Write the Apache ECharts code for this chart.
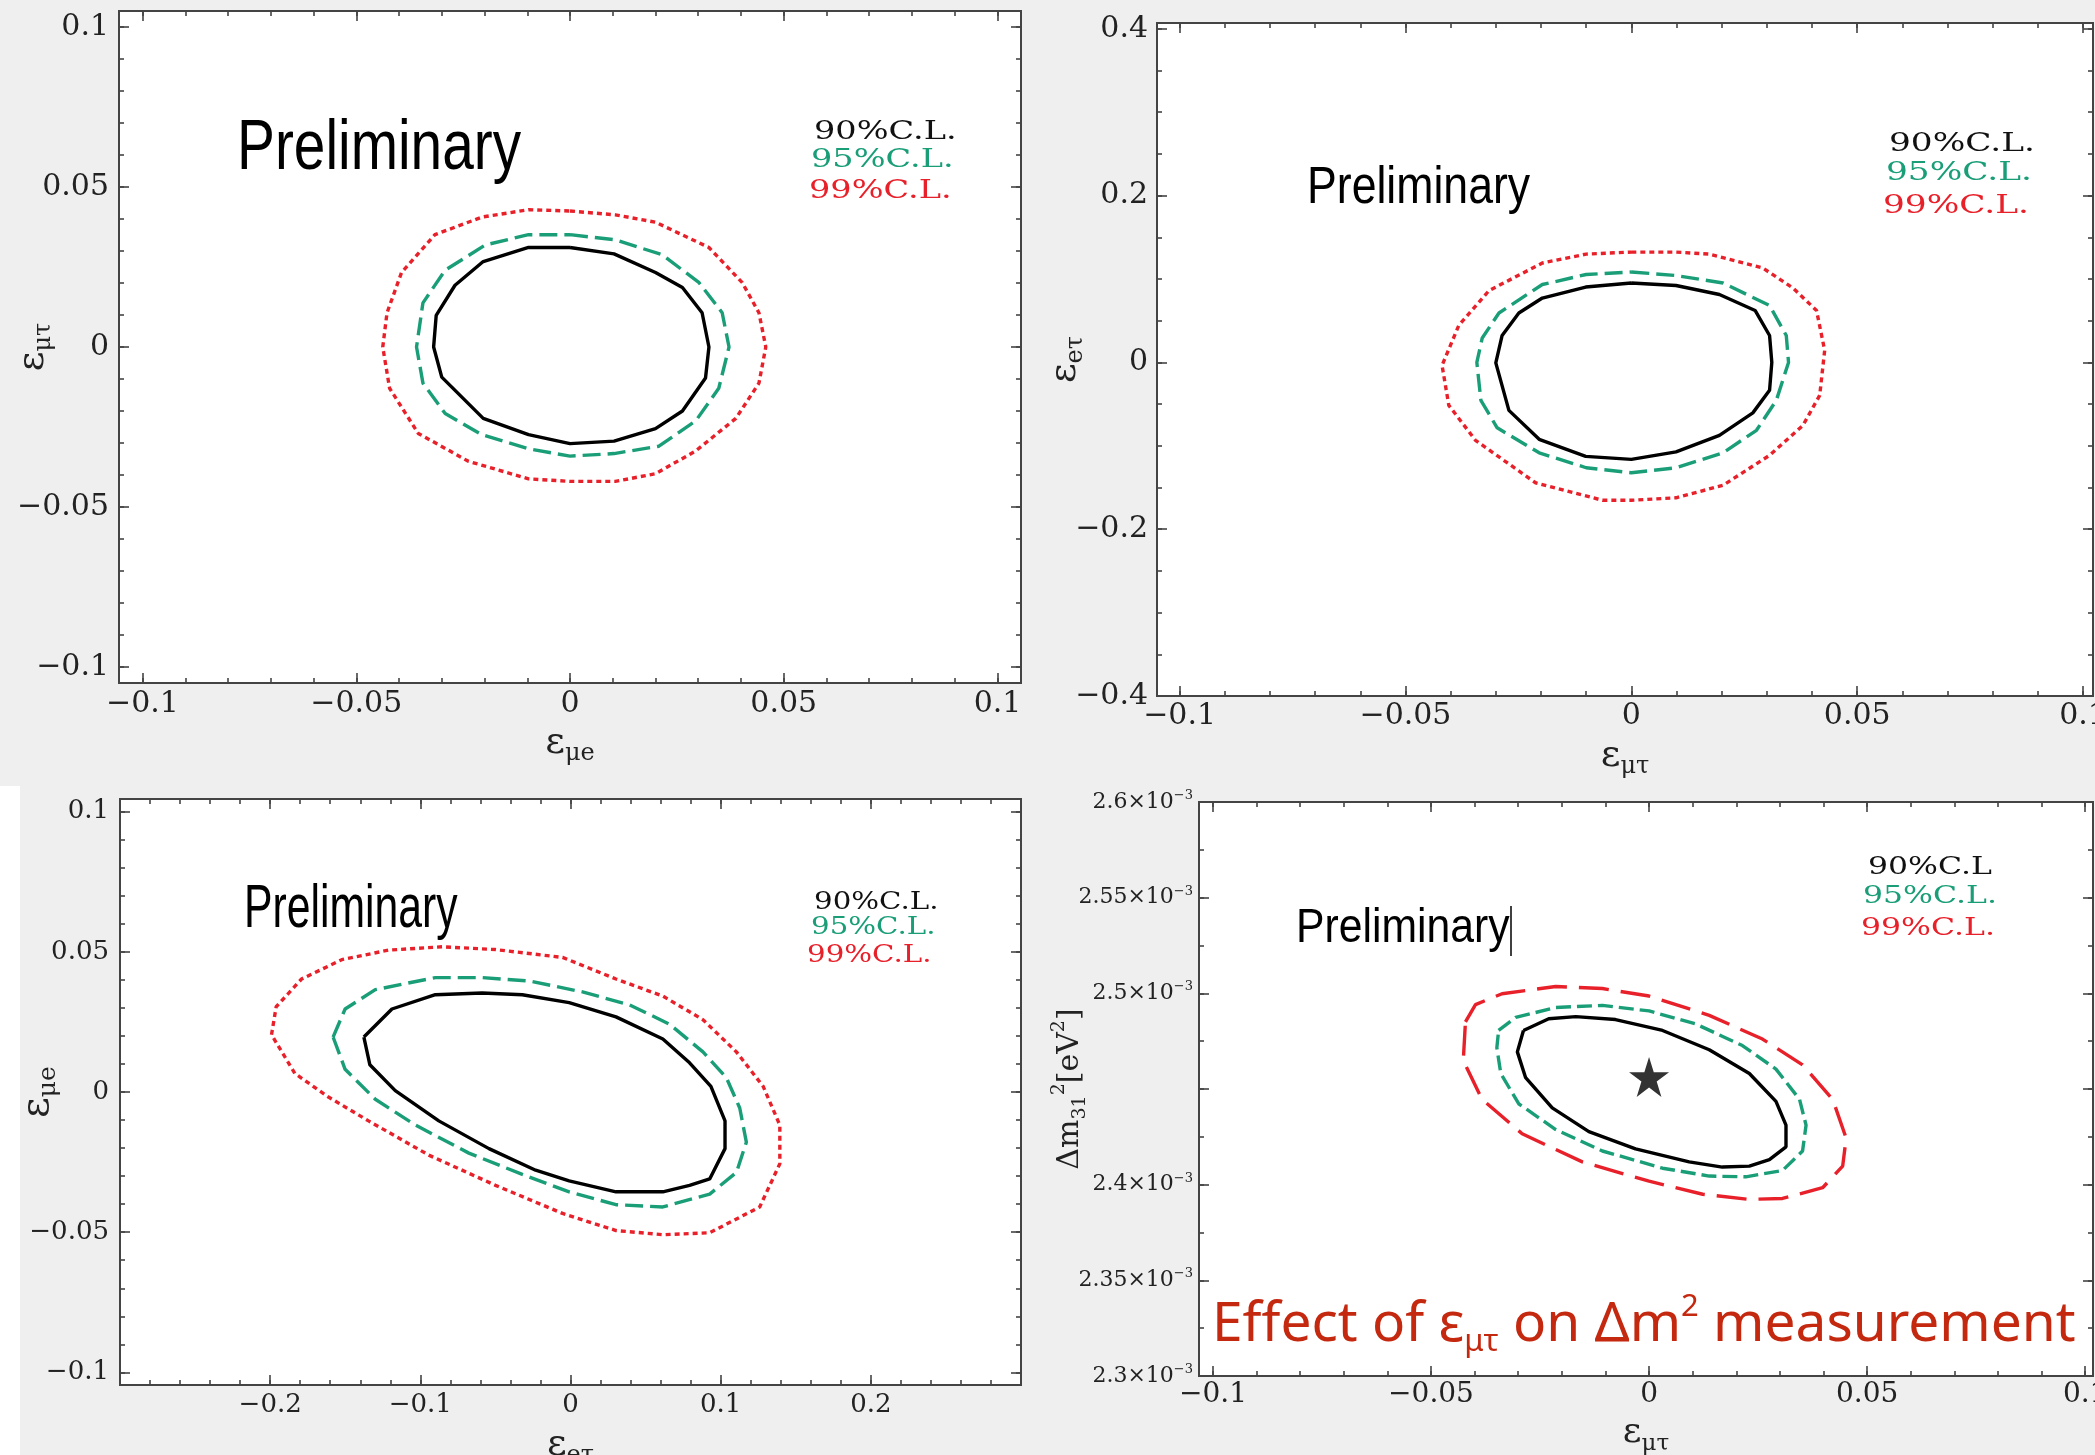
<!DOCTYPE html>
<html><head><meta charset="utf-8">
<script src="https://cdn.jsdelivr.net/npm/echarts@6/dist/echarts.min.js"></script>
<style>html,body{margin:0;padding:0;background:#efefef}#c{width:2095px;height:1455px}</style>
</head><body><div id="c"></div>
<script>
// ---------- DATA ----------
// Panel 1: x = eps_mu_e, y = eps_mu_tau
const p1_90 = [[0,0.0311],[0.0103,0.0291],[0.020,0.0233],[0.0263,0.0186],[0.0309,0.0107],[0.0325,0],[0.0317,-0.0097],[0.0263,-0.020],[0.020,-0.0255],[0.0103,-0.0294],[0,-0.0302],[-0.0097,-0.0274],[-0.0203,-0.0223],[-0.030,-0.0094],[-0.0319,0],[-0.0313,0.0099],[-0.0269,0.0193],[-0.0203,0.0267],[-0.0097,0.0311],[0,0.0311]];
const p1_95 = [[0,0.0351],[0.0106,0.0335],[0.0216,0.0288],[0.0302,0.0201],[0.0356,0.0107],[0.0372,0],[0.0348,-0.0129],[0.0294,-0.0231],[0.0208,-0.031],[0.0103,-0.0333],[0,-0.0341],[-0.0097,-0.0318],[-0.0206,-0.0274],[-0.0292,-0.0208],[-0.0344,-0.0113],[-0.0359,0],[-0.0344,0.0138],[-0.0292,0.024],[-0.0198,0.0319],[-0.0097,0.0351],[0,0.0351]];
const p1_99 = [[0,0.0425],[0.0106,0.0413],[0.020,0.039],[0.0325,0.0311],[0.0403,0.0201],[0.0442,0.0107],[0.0458,0],[0.0442,-0.0113],[0.0388,-0.0223],[0.0294,-0.0325],[0.020,-0.0396],[0.0106,-0.042],[0,-0.042],[-0.0097,-0.0412],[-0.0238,-0.0357],[-0.0355,-0.027],[-0.0422,-0.0129],[-0.0438,0],[-0.0428,0.0107],[-0.0394,0.0233],[-0.0316,0.0351],[-0.0206,0.0406],[-0.0097,0.0429],[0,0.0425]];
// Panel 2: x = eps_mu_tau, y = eps_e_tau
const p2_90 = [[0,0.0952],[0.0099,0.0922],[0.0195,0.0814],[0.0274,0.0623],[0.0306,0.0323],[0.0311,0],[0.0306,-0.0335],[0.0269,-0.0605],[0.0195,-0.0874],[0.0099,-0.1072],[0,-0.1162],[-0.0101,-0.1126],[-0.0204,-0.0922],[-0.0271,-0.0575],[-0.030,-0.0006],[-0.0286,0.0323],[-0.0249,0.0593],[-0.0197,0.0772],[-0.0101,0.0904],[0,0.0952]];
const p2_95 = [[0,0.1084],[0.0099,0.1042],[0.0203,0.0952],[0.0306,0.0683],[0.0343,0.0323],[0.0348,0],[0.0321,-0.0455],[0.0277,-0.0814],[0.0203,-0.1084],[0.0099,-0.1263],[0,-0.1323],[-0.01,-0.1263],[-0.0204,-0.1084],[-0.0297,-0.0784],[-0.0333,-0.0455],[-0.0342,0],[-0.033,0.0293],[-0.0293,0.0593],[-0.0197,0.0934],[-0.01,0.1054],[0,0.1084]];
const p2_99 = [[0,0.1323],[0.0099,0.1323],[0.0173,0.1299],[0.0291,0.1132],[0.0358,0.0892],[0.041,0.0623],[0.0428,0.0144],[0.0417,-0.0395],[0.038,-0.0754],[0.0306,-0.1114],[0.0203,-0.1473],[0.0099,-0.1623],[0,-0.1653],[-0.0064,-0.1653],[-0.0212,-0.1443],[-0.0345,-0.0934],[-0.0404,-0.0515],[-0.0419,-0.0036],[-0.0382,0.0443],[-0.0315,0.0862],[-0.0197,0.1192],[-0.01,0.1299],[0,0.1323]];
// Panel 3: x = eps_e_tau, y = eps_mu_e
const p3_90 = [[-0.1376,0.0196],[-0.1189,0.0296],[-0.09,0.0347],[-0.0588,0.0353],[-0.0321,0.0347],[-0.0009,0.0319],[0.0303,0.0268],[0.0615,0.0189],[0.0793,0.0104],[0.0935,0.002],[0.1029,-0.0103],[0.1029,-0.0202],[0.0927,-0.031],[0.0793,-0.0333],[0.0615,-0.0356],[0.0303,-0.0356],[-0.0009,-0.0317],[-0.0232,-0.0279],[-0.0543,-0.0202],[-0.0877,-0.0103],[-0.1167,0.0005],[-0.1336,0.0097],[-0.1376,0.0196]];
const p3_95 = [[-0.1581,0.0196],[-0.1501,0.0296],[-0.13,0.0365],[-0.09,0.0408],[-0.0588,0.0408],[-0.0276,0.0396],[0.008,0.0357],[0.0392,0.0311],[0.0659,0.0242],[0.0882,0.0143],[0.1038,0.0051],[0.1127,-0.0057],[0.1171,-0.0179],[0.1105,-0.0287],[0.0927,-0.0364],[0.0615,-0.041],[0.0303,-0.0402],[-0.0009,-0.0356],[-0.0321,-0.0294],[-0.0677,-0.0218],[-0.1033,-0.0118],[-0.13,-0.0026],[-0.1501,0.0081],[-0.1581,0.0196]];
const p3_99 = [[-0.1991,0.0204],[-0.196,0.0304],[-0.1791,0.0403],[-0.1523,0.0472],[-0.1212,0.0506],[-0.0855,0.0518],[-0.0499,0.0508],[-0.0053,0.048],[0.0303,0.0403],[0.0615,0.0342],[0.0882,0.0258],[0.1105,0.0143],[0.1283,0.002],[0.1394,-0.0118],[0.1394,-0.0256],[0.126,-0.041],[0.0927,-0.0502],[0.0615,-0.0509],[0.0303,-0.0494],[-0.0053,-0.0433],[-0.0499,-0.0333],[-0.0944,-0.0225],[-0.1345,-0.0103],[-0.1612,-0.0018],[-0.1835,0.0066],[-0.1991,0.0204]];
// Panel 4: x = eps_mu_tau, y = Delta m^2_31 [eV^2]
const p4_90 = [[-0.0288,2.4806e-3],[-0.023,2.4867e-3],[-0.0168,2.4878e-3],[-0.0077,2.4863e-3],[0.0031,2.4806e-3],[0.0138,2.4705e-3],[0.023,2.4581e-3],[0.0291,2.4435e-3],[0.0314,2.4311e-3],[0.0314,2.4198e-3],[0.0276,2.4131e-3],[0.023,2.4097e-3],[0.0168,2.4092e-3],[0.0092,2.4119e-3],[-0.0031,2.4187e-3],[-0.0138,2.4277e-3],[-0.0222,2.4401e-3],[-0.0283,2.4559e-3],[-0.0302,2.4694e-3],[-0.0288,2.4806e-3]];
const p4_95 = [[-0.0345,2.4806e-3],[-0.0306,2.4874e-3],[-0.0214,2.4926e-3],[-0.0107,2.4937e-3],[0,2.4908e-3],[0.0107,2.484e-3],[0.0214,2.4727e-3],[0.0291,2.4604e-3],[0.0345,2.4446e-3],[0.036,2.4311e-3],[0.0352,2.4176e-3],[0.0306,2.4074e-3],[0.0222,2.4041e-3],[0.0138,2.4045e-3],[0.0031,2.4086e-3],[-0.0107,2.4176e-3],[-0.0214,2.4288e-3],[-0.0299,2.4423e-3],[-0.034,2.4581e-3],[-0.0349,2.4716e-3],[-0.0345,2.4806e-3]];
const p4_99 = [[-0.0421,2.4851e-3],[-0.0398,2.4941e-3],[-0.0337,2.4998e-3],[-0.0214,2.5036e-3],[-0.0107,2.5025e-3],[0,2.4986e-3],[0.0138,2.4885e-3],[0.026,2.4761e-3],[0.0352,2.4626e-3],[0.0421,2.4446e-3],[0.0452,2.4243e-3],[0.0444,2.4097e-3],[0.0398,2.3984e-3],[0.0306,2.3928e-3],[0.023,2.3923e-3],[0.0123,2.395e-3],[0,2.4018e-3],[-0.0153,2.4119e-3],[-0.0291,2.4266e-3],[-0.0383,2.4446e-3],[-0.0426,2.4649e-3],[-0.0421,2.4851e-3]];
const p4_best = [[0, 2.4563e-3]];

// tick labels
const ticks_pm01 = [-0.1,-0.05,0,0.05,0.1];
const ticks_pm04 = [-0.4,-0.2,0,0.2,0.4];
const ticks_pm02 = [-0.2,-0.1,0,0.1,0.2];
const ticks_dm2_major = [2.3e-3,2.35e-3,2.4e-3,2.45e-3,2.5e-3,2.55e-3,2.6e-3];
const ticks_dm2_labels = [2.3e-3,2.35e-3,2.4e-3,2.5e-3,2.55e-3,2.6e-3];
const legendTexts = ['90%C.L.','95%C.L.','99%C.L.'];
const legendTexts4 = ['90%C.L','95%C.L.','99%C.L.'];

// ---------- STYLE ----------
const SERIF = "'DejaVu Serif', 'Liberation Serif', serif";
const AX = '#444';
const C90 = '#000000', C95 = '#1a9e78', C99 = '#e8202a';

function steps(a, b, s){ const out=[]; const n=Math.round((b-a)/s); for(let i=0;i<=n;i++) out.push(+(a+i*s).toFixed(6)); return out; }
function fmt(v){ return String(+(+v).toFixed(4)).replace('-', '\u2212'); }
function fmtDm(v){ return '{m|' + String(+(v*1000).toFixed(3)) + '\u00d710}{s|\u22123}'; }
function tickCfg(vals, len){ return {show:true, inside:true, length:len, customValues:vals, lineStyle:{color:AX, width:1.6}}; }
function epsName(fs, sfs){
  return {color:'#222', fontFamily:SERIF, rich:{
    e:{fontFamily:SERIF, fontSize:fs, lineHeight:46, color:'#222'},
    s:{fontFamily:SERIF, fontSize:sfs, lineHeight:18, verticalAlign:'bottom', color:'#222'}
  }};
}
function axes(dim, g, o){
  const pos = dim==='x' ? ['bottom','top'] : ['left','right'];
  const base = {type:'value', gridIndex:g, min:o.min, max:o.max, splitLine:{show:false}, axisLine:{show:false, onZero:false}, silent:true};
  const lab = {show:true, customValues:o.labels, formatter:o.fmt||fmt, margin:o.margin, fontFamily:SERIF, fontSize:o.fs, color:'#222'};
  if (o.rich) lab.rich = o.rich;
  return [
    Object.assign({}, base, {position:pos[0], axisTick:tickCfg(o.major,10), axisLabel:lab, name:o.name, nameLocation:'middle', nameGap:o.gap, nameMoveOverlap:false, nameTextStyle:o.nameStyle}),
    Object.assign({}, base, {position:pos[0], axisTick:tickCfg(o.minor,5), axisLabel:{show:false}}),
    Object.assign({}, base, {position:pos[1], axisTick:tickCfg(o.major,10), axisLabel:{show:false}}),
    Object.assign({}, base, {position:pos[1], axisTick:tickCfg(o.minor,5), axisLabel:{show:false}})
  ];
}
const xAxis = [].concat(
  axes('x',0,{min:-0.1055,max:0.1055,major:ticks_pm01,labels:ticks_pm01,minor:steps(-0.1,0.1,0.01),fs:30,margin:6,name:'{e|ε}{s|μe}',gap:37,nameStyle:epsName(38,24)}),
  axes('x',1,{min:-0.105,max:0.1022,major:ticks_pm01,labels:ticks_pm01,minor:steps(-0.1,0.1,0.01),fs:30,margin:5,name:'{e|ε}{s|μτ}',gap:37,nameStyle:epsName(38,24)}),
  axes('x',2,{min:-0.3,max:0.3,major:ticks_pm02,labels:ticks_pm02,minor:steps(-0.28,0.28,0.02),fs:26,margin:7,name:'{e|ε}{s|eτ}',gap:37,nameStyle:epsName(38,24)}),
  axes('x',3,{min:-0.1032,max:0.1018,major:ticks_pm01,labels:ticks_pm01,minor:steps(-0.1,0.1,0.01),fs:28,margin:5,name:'{e|ε}{s|μτ}',gap:34,nameStyle:epsName(36,23)})
);
const dmNameStyle = {color:'#222', fontFamily:SERIF, rich:{
  m:{fontFamily:SERIF, fontSize:30, lineHeight:40, color:'#222'},
  s:{fontFamily:SERIF, fontSize:19, lineHeight:14, verticalAlign:'bottom', color:'#222'},
  p:{fontFamily:SERIF, fontSize:19, lineHeight:18, verticalAlign:'top', color:'#222'}
}};
const yAxis = [].concat(
  axes('y',0,{min:-0.105,max:0.105,major:ticks_pm01,labels:ticks_pm01,minor:steps(-0.1,0.1,0.01),fs:30,margin:10,name:'{e|ε}{s|μτ}',gap:63,nameStyle:epsName(38,24)}),
  axes('y',1,{min:-0.4,max:0.407,major:ticks_pm04,labels:ticks_pm04,minor:steps(-0.4,0.4,0.05),fs:30,margin:9,name:'{e|ε}{s|eτ}',gap:69,nameStyle:epsName(38,24)}),
  axes('y',2,{min:-0.1045,max:0.1045,major:ticks_pm01,labels:ticks_pm01,minor:steps(-0.1,0.1,0.01),fs:26,margin:11,name:'{e|ε}{s|μe}',gap:59,nameStyle:epsName(40,25)}),
  axes('y',3,{min:2.3e-3,max:2.6e-3,major:ticks_dm2_major,labels:ticks_dm2_labels,minor:steps(2.3e-3,2.6e-3,0.025e-3),fs:22,margin:6,fmt:fmtDm,
    rich:{m:{fontFamily:SERIF,fontSize:22,lineHeight:26,color:'#222'}, s:{fontFamily:SERIF,fontSize:13,lineHeight:12,verticalAlign:'top',color:'#222'}},
    name:'{m|Δm}{s|31}{p|2}{m|[eV}{p|2}{m|]}',gap:109,nameStyle:dmNameStyle})
);

function contour(name, data, g, color, type){
  return {type:'line', name:name, xAxisIndex:4*g, yAxisIndex:4*g, data:data, showSymbol:false, symbol:'none',
    smooth:false, silent:true, animation:false, lineStyle:{color:color, width:3.4, type:type, cap:'butt'}};
}
const dot = [5,4], dashG = [18,7], dashG4 = [15,6], dashR4 = [30,12];
const series = [
  contour('99%C.L.', p1_99, 0, C99, dot), contour('95%C.L.', p1_95, 0, C95, dashG), contour('90%C.L.', p1_90, 0, C90, 'solid'),
  contour('99%C.L.', p2_99, 1, C99, dot), contour('95%C.L.', p2_95, 1, C95, dashG), contour('90%C.L.', p2_90, 1, C90, 'solid'),
  contour('99%C.L.', p3_99, 2, C99, dot), contour('95%C.L.', p3_95, 2, C95, dashG), contour('90%C.L.', p3_90, 2, C90, 'solid'),
  contour('99%C.L.', p4_99, 3, C99, dashR4), contour('95%C.L.', p4_95, 3, C95, dashG4), contour('90%C.L', p4_90, 3, C90, 'solid'),
  {type:'scatter', name:'best fit', xAxisIndex:12, yAxisIndex:12, data:p4_best, silent:true, animation:false,
   symbol:'path://M50,0 L61.8,35.3 L100,35.3 L69.1,57.1 L80.9,92.7 L50,70.9 L19.1,92.7 L30.9,57.1 L0,35.3 L38.2,35.3 Z',
   symbolSize:[40,40], itemStyle:{color:'#000'}}
];

function txt(x, y, text, fs, family, color, sx){
  return {type:'text', x:x, y:y, scaleX:sx||1, z:100, silent:true,
    style:{text:text, fontSize:fs, fontFamily:family, fill:color, align:'left', textAlign:'left', verticalAlign:'middle', textVerticalAlign:'middle'}};
}
function legendBlock(xs, ys, texts, fs, sx){
  const cols = ['#111', C95, C99];
  return texts.map((t,i)=>txt(xs[i], ys[i], t, fs, SERIF, cols[i], sx));
}
const SANS = "'Liberation Sans', Arial, sans-serif";
const graphic = [].concat(
  [{type:'rect', shape:{x:0,y:786,width:20,height:669}, style:{fill:'#fff'}, z:1, silent:true}],
  [txt(237,149,'Preliminary',71,SANS,'#000',0.80), txt(1307,189,'Preliminary',51,SANS,'#000',0.875),
   txt(244,910,'Preliminary',61,SANS,'#000',0.70), txt(1296,929,'Preliminary',48,SANS,'#000',0.89)],
  [{type:'line', shape:{x1:1511,y1:906,x2:1511,y2:956}, style:{stroke:'#000', lineWidth:1.5}, z:100, silent:true}],
  legendBlock([814,811,809],[132,160,191],legendTexts,26,1.29),
  legendBlock([1889,1886,1883],[144,173,206],legendTexts,26,1.32),
  legendBlock([814,811,807],[903,928,956],legendTexts,24,1.22),
  legendBlock([1868,1863,1861],[867,896,928],legendTexts4,25,1.26),
  [{type:'text', x:1212, y:1325, z:100, silent:true, style:{
    text:'{a|Effect of ε}{b|μτ}{a| on Δm}{c|2}{a| measurement}', fill:'#c4280f', align:'left', textAlign:'left', verticalAlign:'middle', textVerticalAlign:'middle',
    rich:{a:{fontSize:55, fontFamily:"'Noto Sans', sans-serif", fill:'#c4280f', color:'#c4280f', lineHeight:66},
          b:{fontSize:31, fontFamily:"'Noto Sans', sans-serif", fill:'#c4280f', color:'#c4280f', lineHeight:24, verticalAlign:'bottom'},
          c:{fontSize:31, fontFamily:"'Noto Sans', sans-serif", fill:'#c4280f', color:'#c4280f', lineHeight:52, verticalAlign:'top'}}}}]
);

const chart = echarts.init(document.getElementById('c'), null, {renderer:'canvas', width:2095, height:1455});
const gridBase = {show:true, backgroundColor:'#fff', borderColor:AX, borderWidth:2, containLabel:false, outerBoundsMode:'none'};
chart.setOption({
  backgroundColor:'#efefef',
  animation:false,
  grid:[
    Object.assign({left:119, top:11, width:902, height:672}, gridBase),
    Object.assign({left:1157, top:23, width:936, height:673}, gridBase),
    Object.assign({left:120, top:799, width:901, height:586}, gridBase),
    Object.assign({left:1199, top:802, width:894, height:574}, gridBase)
  ],
  xAxis:xAxis, yAxis:yAxis, series:series, graphic:graphic
});
</script></body></html>
